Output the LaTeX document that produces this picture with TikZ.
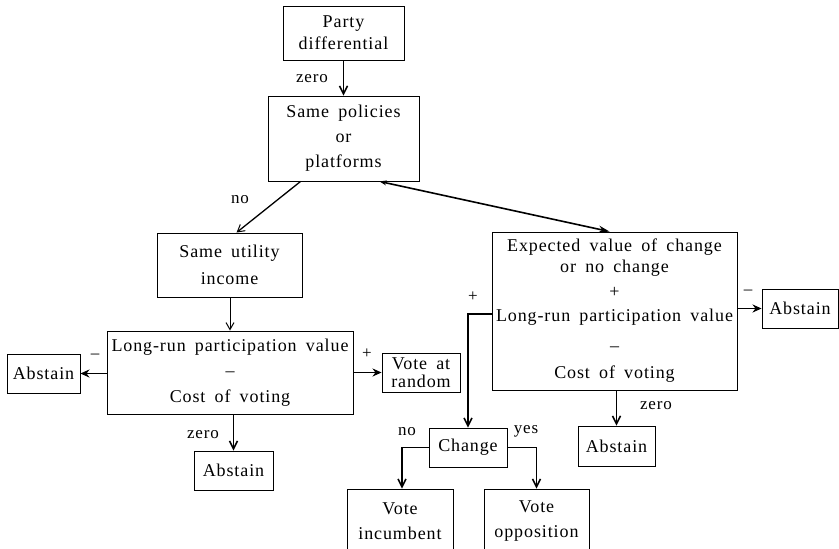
\documentclass[tikz,border=0pt]{standalone}
\usepackage{fontspec}
\usetikzlibrary{arrows.meta,calc}

% spaced serif used in every box and label
\newfontfamily\boxface{Liberation Serif}[LetterSpace=5,WordSpace=1.7]
\newcommand\boxfnt[1]{\boxface\fontsize{18}{#1}\selectfont}

\tikzset{
  lbl/.style={font=\boxface\fontsize{17}{18}\selectfont, inner sep=0pt},
  box/.style={font=\boxfnt{24}, draw, line width=0.9pt, inner sep=0pt, align=center},
  thin/.style={line width=1pt, -{Straight Barb[length=7pt,width=8pt,line width=1pt]}},
  barb/.style={line width=1.6pt, -{Straight Barb[length=8pt,width=8pt,line width=1.5pt]}},
  solid head/.style={line width=1.6pt, -{Stealth[length=9pt,width=8pt]}},
}

\begin{document}
\begin{tikzpicture}[x=1pt,y=-1pt]
\useasboundingbox (0,0) rectangle (839,549);

% boxes
\node[box, minimum width=121pt, minimum height=54pt, font=\boxfnt{22}]
  (pd) at (343.5,33) {Party\\differential};
\node[box, minimum width=151pt, minimum height=85pt, font=\boxfnt{25}]
  (sp) at (343.5,138.5) {Same policies\\or\\platforms};
\node[box, minimum width=145pt, minimum height=64pt, font=\boxfnt{27}]
  (su) at (229.5,265) {Same utility\\income};
\node[box, minimum width=246pt, minimum height=83pt, font=\boxfnt{25.5}]
  (lr) at (230,372.5) {Long-run participation value\\–\\Cost of voting};
\node[box, minimum width=73pt, minimum height=39pt] (abL) at (43.5,373.5) {Abstain};
\node[box, minimum width=78pt, minimum height=39pt, font=\boxfnt{18}]
  (var) at (421,372.5) {Vote at\\random};
\node[box, minimum width=245pt, minimum height=158pt, font=\boxfnt{24}]
  (ev) at (614.5,311) {Expected value of change\\[-3pt]or no change\\[1pt]+\\Long-run participation value\\[6pt]–\\[3pt]Cost of voting};
\node[box, minimum width=76pt, minimum height=39pt] (abR) at (800,308.5) {Abstain};
\node[box, minimum width=77pt, minimum height=40pt] (abZ) at (616.5,446) {Abstain};
\node[box, minimum width=78pt, minimum height=39pt] (ch) at (468,447.5) {Change};
\node[box, minimum width=79pt, minimum height=39pt] (abB) at (233.5,470.5) {Abstain};
\node[box, minimum width=106pt, minimum height=64pt, font=\boxfnt{25}]
  (vi) at (400,521) {Vote\\incumbent};
\node[box, minimum width=105pt, minimum height=64pt, font=\boxfnt{25}]
  (vo) at (536.5,521) {Vote\\opposition};

% connectors
\draw[barb] (pd.south) -- (sp.north);
\node[lbl] (lzero1) at (312,79) {zero};

\draw[thin, line width=1.3pt] ([xshift=33pt]sp.south west) -- ([xshift=80pt]su.north west);
\node[lbl] (lno1) at (240,200) {no};

\draw[line width=1.6pt, {Stealth[length=7pt,width=5pt]}-{Stealth[length=11pt,width=7pt]}]
  ([xshift=112pt]sp.south west) -- ([xshift=118pt]ev.north west);

\draw[thin] (su.south -| lr.north) -- (lr.north);

\draw[solid head] (lr.west |- abL) -- (abL.east);
\node[lbl] (lminusL) at (95,356) {–};
\draw[solid head] (lr.east |- var) -- (var.west);
\node[lbl] (lplusL) at (367,354) {+};
\draw[barb] (lr.south -| abB.north) -- (abB.north);
\node[lbl] (lzero2) at (203,435) {zero};

\draw[barb] ([yshift=-3pt]ev.west) -| (ch.north);
\node[lbl] (lplusR) at (473,297) {+};
\draw[solid head] (ev.east |- abR) -- (abR.west);
\node[lbl] (lminusR) at (748,292) {–};
\draw[barb] (ev.south -| abZ.north) -- (abZ.north);
\node[lbl] (lzero3) at (656,406) {zero};

\draw[barb] (ch.west) -| ([xshift=2pt]vi.north);
\node[lbl] (lno2) at (407,432) {no};
\draw[barb] (ch.east) -| (vo.north);
\node[lbl] (lyes) at (526,431) {yes};
\end{tikzpicture}
\end{document}
